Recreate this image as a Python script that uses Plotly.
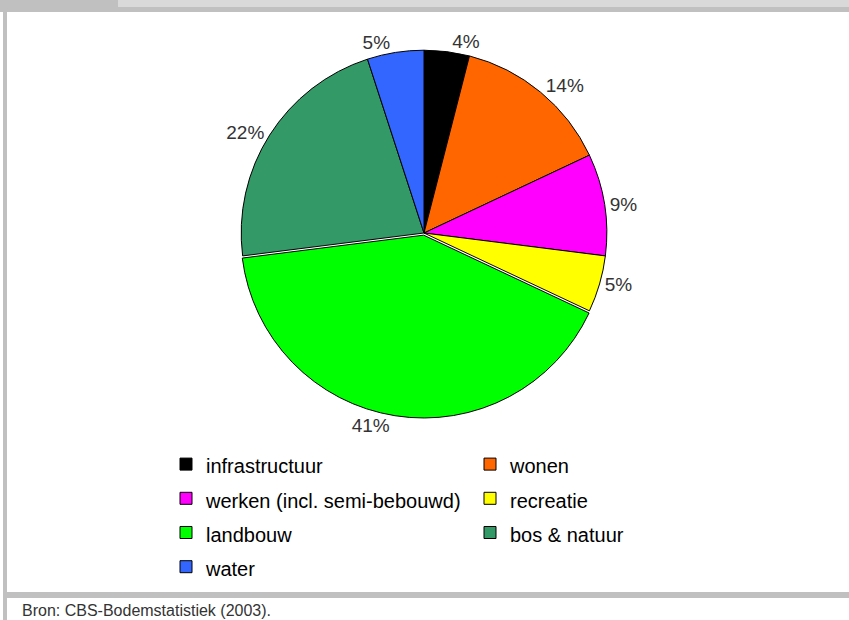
import plotly.graph_objects as go

# Bodemgebruik in Nederland (CBS-Bodemstatistiek 2003)
categories = [
    "infrastructuur",
    "wonen",
    "werken (incl. semi-bebouwd)",
    "recreatie",
    "landbouw",
    "bos & natuur",
    "water",
]
shares = [4, 14, 9, 5, 41, 22, 5]
colors = ["#000000", "#FF6600", "#FF00FF", "#FFFF00", "#00FF00", "#339966", "#3366FF"]
source_note = "Bron: CBS-Bodemstatistiek (2003)."

W, H = 849, 620


def px_x(v):
    return v / W


def px_y(v):
    return 1 - v / H


# a bigger legend font spreads the rows; the span keeps the visible text smaller
legend_names = ["<span style='font-size:20px'>%s</span>" % c for c in categories]

fig = go.Figure()

fig.add_trace(
    go.Pie(
        labels=legend_names,
        values=shares,
        sort=False,
        direction="clockwise",
        rotation=0,
        marker=dict(colors=colors, line=dict(color="#000000", width=1)),
        textinfo="percent",
        texttemplate="%{percent:.0%}",
        textposition="outside",
        textfont=dict(family="Liberation Sans, Arial, sans-serif", size=19, color="#333333"),
        pull=[0, 0, 0, 0, 0.012, 0, 0],
        domain=dict(x=[px_x(239), px_x(609)], y=[px_y(418), px_y(48)]),
        customdata=categories,
        hovertemplate="%{customdata}: %{percent}<extra></extra>",
    )
)

grey_dark = "#C0C0C0"
grey_light = "#D9D9D9"

fig.update_layout(
    width=W,
    height=H,
    autosize=False,
    margin=dict(l=0, r=0, t=0, b=0, autoexpand=False),
    paper_bgcolor="white",
    plot_bgcolor="white",
    legend=dict(
        orientation="h",
        x=px_x(166),
        xanchor="left",
        y=px_y(442),
        yanchor="top",
        entrywidth=259,
        font=dict(family="Liberation Sans, Arial, sans-serif", size=24, color="#000000"),
        itemclick=False,
        itemdoubleclick=False,
    ),
    shapes=[
        # top strip
        dict(type="rect", xref="paper", yref="paper", x0=0, x1=1, y0=px_y(7), y1=1,
             fillcolor=grey_light, line_width=0, layer="below"),
        dict(type="rect", xref="paper", yref="paper", x0=0, x1=px_x(118), y0=px_y(7), y1=1,
             fillcolor=grey_dark, line_width=0, layer="below"),
        dict(type="rect", xref="paper", yref="paper", x0=0, x1=1, y0=px_y(12), y1=px_y(7),
             fillcolor=grey_dark, line_width=0, layer="below"),
        # left border
        dict(type="rect", xref="paper", yref="paper", x0=px_x(3), x1=px_x(7), y0=0, y1=px_y(12),
             fillcolor=grey_dark, line_width=0, layer="below"),
        # separator above source note
        dict(type="rect", xref="paper", yref="paper", x0=px_x(3), x1=1, y0=px_y(598), y1=px_y(592),
             fillcolor=grey_dark, line_width=0, layer="below"),
    ],
    annotations=[
        dict(
            text=source_note,
            xref="paper",
            yref="paper",
            x=px_x(20),
            y=px_y(610),
            xanchor="left",
            yanchor="middle",
            showarrow=False,
            font=dict(family="Liberation Sans, Arial, sans-serif", size=16, color="#333333"),
        )
    ],
)

# drop the default page margin so the figure sits at the window's corner
post = "document.body.style.margin='0';document.body.style.overflow='hidden';"

fig.write_html("out.html", post_script=post, config={"responsive": False, "displayModeBar": False})
